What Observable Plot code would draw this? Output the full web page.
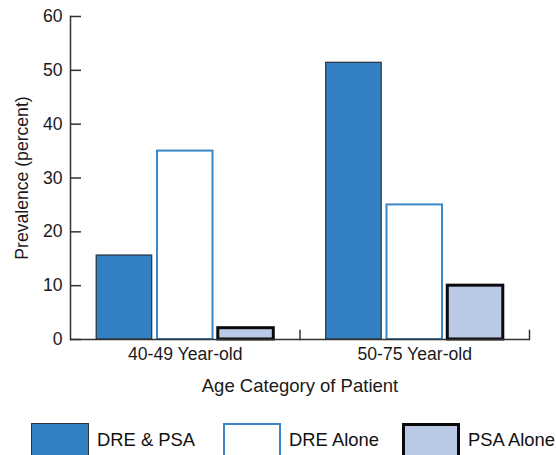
<!DOCTYPE html>
<html><head><meta charset="utf-8">
<script src="https://cdn.jsdelivr.net/npm/d3@7"></script>
<script src="https://cdn.jsdelivr.net/npm/@observablehq/plot@0.6"></script>
<style>
body{margin:0;background:#fff;font-family:"Liberation Sans",Arial,sans-serif;overflow:hidden;}
#chart svg{display:block;}
#legend{position:relative;height:50px;}
.item{position:absolute;top:18px;display:flex;align-items:flex-start;font-size:18.4px;line-height:20px;color:#111;white-space:nowrap;}
.item span{padding-top:7px;}
.sw{width:58px;height:40px;box-sizing:border-box;margin-right:8px;}
</style></head><body>
<div id="chart"></div><div id="legend"></div>
<script>
const groups = ["40-49 Year-old", "50-75 Year-old"];
const series = ["DRE & PSA", "DRE Alone", "PSA Alone"];
const dreAndPsa = [15.6, 51.4];
const dreAlone = [35, 25];
const psaAlone = [2.1, 10];
const yTicks = [0, 10, 20, 30, 40, 50, 60];
const xTitle = "Age Category of Patient";
const yTitle = "Prevalence (percent)";

const values = [dreAndPsa, dreAlone, psaAlone];
const data = groups.flatMap((g, i) => series.map((s, j) => ({group: g, series: s, value: values[j][i]})));

const styles = {
  "DRE & PSA": {fill: "#3381c3", stroke: "#27313c", strokeWidth: 1.2},
  "DRE Alone": {fill: "#ffffff", stroke: "#3a86c8", strokeWidth: 2},
  "PSA Alone": {fill: "#bacae6", stroke: "#0a0a0a", strokeWidth: 3}
};

const plot = Plot.plot({
  width: 556, height: 405,
  marginLeft: 70, marginRight: 27, marginTop: 16, marginBottom: 66,
  style: {fontFamily: "'Liberation Sans', Arial, sans-serif", fontSize: "17.6px", color: "#1a1a1a", background: "white", overflow: "visible"},
  fx: {domain: groups, padding: 0, round: false},
  x: {domain: series, paddingInner: 0.087, paddingOuter: 0.431, round: false, axis: null},
  y: {domain: [0, 60]},
  marks: [
    ...series.map(s => Plot.barY(data.filter(d => d.series === s), {fx: "group", x: "series", y: "value", inset: 0, ...styles[s]})),
    Plot.ruleY([0], {stroke: "#333", strokeWidth: 1.5}),
    Plot.frame({anchor: "left", facetAnchor: "left", stroke: "#333", strokeWidth: 1.5}),
    Plot.frame({anchor: "right", insetTop: 314, stroke: "#333", strokeWidth: 1.5}),
    Plot.axisY(yTicks, {tickSize: -11, tickPadding: 19, stroke: "#333", strokeWidth: 1.5, label: yTitle, labelAnchor: "center", labelArrow: "none", labelOffset: 55}),
    Plot.axisFx({anchor: "bottom", tickSize: 0, tickPadding: 8, fontSize: 17.6, label: null}),
    Plot.axisFx({anchor: "bottom", tickSize: 0, text: null, fontSize: 18.5, label: xTitle, labelAnchor: "center", labelArrow: "none", labelOffset: 52})
  ]
});
document.getElementById("chart").appendChild(plot);

const legendLefts = [31, 223, 402];
const legend = document.getElementById("legend");
series.forEach((s, i) => {
  const item = document.createElement("div");
  item.className = "item";
  item.style.left = legendLefts[i] + "px";
  const sw = document.createElement("div");
  sw.className = "sw";
  sw.style.background = styles[s].fill;
  sw.style.border = `${styles[s].strokeWidth}px solid ${styles[s].stroke}`;
  const t = document.createElement("span");
  t.textContent = s;
  item.appendChild(sw); item.appendChild(t);
  legend.appendChild(item);
});
</script>
</body></html>
